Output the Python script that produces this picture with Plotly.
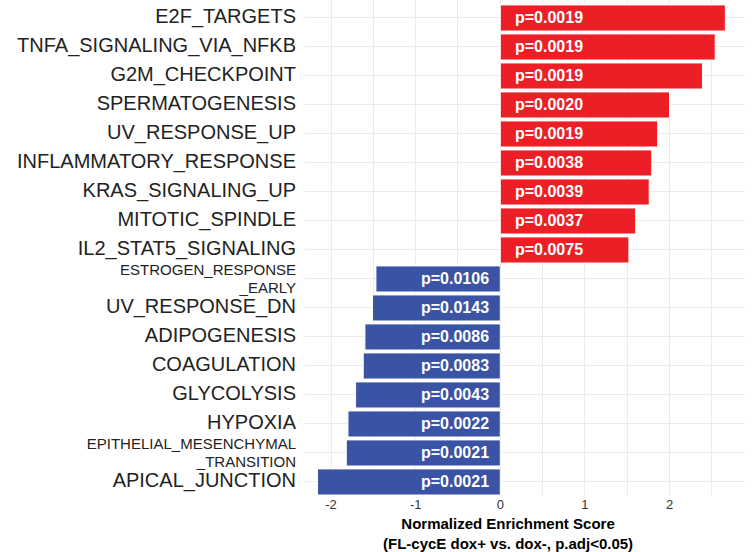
import plotly.graph_objects as go

# Hallmark gene sets, top to bottom
pathways = [
    "E2F_TARGETS", "TNFA_SIGNALING_VIA_NFKB", "G2M_CHECKPOINT", "SPERMATOGENESIS",
    "UV_RESPONSE_UP", "INFLAMMATORY_RESPONSE", "KRAS_SIGNALING_UP", "MITOTIC_SPINDLE",
    "IL2_STAT5_SIGNALING", "ESTROGEN_RESPONSE_EARLY", "UV_RESPONSE_DN", "ADIPOGENESIS",
    "COAGULATION", "GLYCOLYSIS", "HYPOXIA", "EPITHELIAL_MESENCHYMAL_TRANSITION",
    "APICAL_JUNCTION",
]
nes = [2.66, 2.54, 2.39, 2.00, 1.86, 1.79, 1.76, 1.60, 1.52,
       -1.47, -1.51, -1.60, -1.62, -1.71, -1.80, -1.82, -2.16]
padj = ["0.0019", "0.0019", "0.0019", "0.0020", "0.0019", "0.0038", "0.0039", "0.0037",
        "0.0075", "0.0106", "0.0143", "0.0086", "0.0083", "0.0043", "0.0022", "0.0021",
        "0.0021"]
x_ticks = [-2, -1, 0, 1, 2]

RED = "#ED1F26"
BLUE = "#3A53A4"
FONT = "Liberation Sans"


def span(text, size):
    return "<span style='font-size:%dpx'>%s</span>" % (size, text)


def tick_label(name):
    # long names are wrapped onto two smaller lines
    if name == "ESTROGEN_RESPONSE_EARLY":
        return span("ESTROGEN_RESPONSE", 15) + "<br>" + span("_EARLY", 15)
    if name == "EPITHELIAL_MESENCHYMAL_TRANSITION":
        return span("EPITHELIAL_MESENCHYMAL", 15) + "<br>" + span("_TRANSITION", 15)
    return span(name, 20)


colors = [RED if v > 0 else BLUE for v in nes]

fig = go.Figure(
    go.Bar(
        x=nes,
        y=pathways,
        orientation="h",
        width=0.9,
        marker=dict(color=colors, line=dict(color="white", width=1)),
        hoverinfo="x+y",
    )
)

# p-value labels anchored at the bar base
for name, v, p in zip(pathways, nes, padj):
    fig.add_annotation(
        x=0, y=name, xref="x", yref="y",
        text="<b>p=" + p + "</b>",
        showarrow=False,
        xanchor="left" if v > 0 else "right",
        xshift=13 if v > 0 else -9,
        font=dict(family=FONT, size=16, color="white"),
    )

fig.add_annotation(
    x=0.461, y=-0.036, xref="paper", yref="paper",
    xanchor="center", yanchor="top",
    text="<b>Normalized Enrichment Score<br>(FL-cycE dox+ vs. dox-, p.adj<0.05)</b>",
    showarrow=False,
    font=dict(family=FONT, size=15, color="black"),
)

fig.update_layout(
    width=752, height=552,
    margin=dict(l=305, r=7, t=0, b=57),
    paper_bgcolor="white", plot_bgcolor="white",
    showlegend=False,
    font=dict(family=FONT),
    xaxis=dict(
        range=[-2.308, 2.892],
        tickvals=x_ticks,
        ticktext=[str(t) for t in x_ticks],
        tickfont=dict(family=FONT, size=13, color="#333333"),
        showgrid=True, gridcolor="#ebebeb", gridwidth=1,
        minor=dict(dtick=0.5, tick0=0, showgrid=True, gridcolor="#ebebeb", gridwidth=0.6),
        zeroline=False, showline=False, ticks="",
        ticklabelstandoff=0,
    ),
    yaxis=dict(
        type="category",
        categoryorder="array", categoryarray=pathways,
        range=[16.45, -0.62],
        tickvals=pathways,
        ticktext=[tick_label(n) for n in pathways],
        tickfont=dict(family=FONT, size=14, color="#222222"),
        showgrid=True, gridcolor="#ebebeb", gridwidth=1,
        zeroline=False, showline=False, ticks="",
        ticklabelstandoff=8,
    ),
)

fig.write_html("out.html")
